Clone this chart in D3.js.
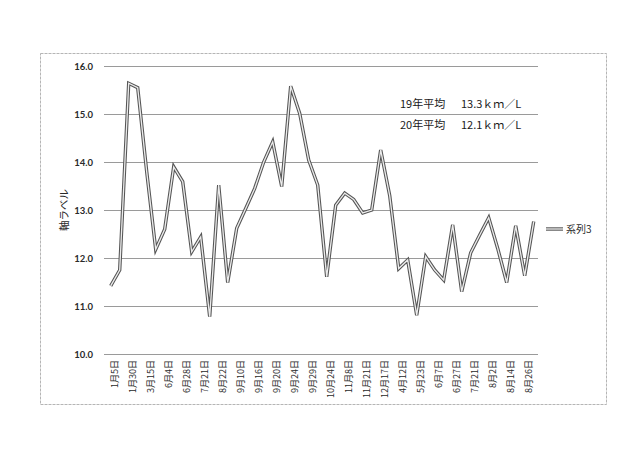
<!DOCTYPE html>
<html>
<head>
<meta charset="utf-8">
<script src="https://cdn.jsdelivr.net/npm/d3@7"></script>
<style>
  html, body { margin: 0; padding: 0; background: #ffffff; }
  svg { display: block; }
</style>
</head>
<body>
<svg id="chart" width="640" height="456"></svg>
<script>
// ---- data ----
const tickLabels = ["1月5日","1月30日","3月15日","6月4日","6月28日","7月21日","8月22日","9月10日",
  "9月16日","9月20日","9月24日","9月29日","10月24日","11月8日","11月21日","12月17日",
  "4月12日","5月23日","6月7日","6月27日","7月21日","8月2日","8月14日","8月26日"];
const series3 = [11.42, 11.75, 15.64, 15.55, 13.8, 12.18, 12.60, 13.90, 13.59, 12.13,
  12.44, 10.78, 13.52, 11.49, 12.62, 13.03, 13.45, 14.0, 14.42, 13.49,
  15.58, 15.01, 14.04, 13.52, 11.61, 13.10, 13.35, 13.22, 12.94, 13.0,
  14.25, 13.3, 11.78, 11.96, 10.81, 12.03, 11.75, 11.54, 12.69, 11.30,
  12.11, 12.48, 12.84, 12.2, 11.49, 12.67, 11.63, 12.76];
const yTicks = [10, 11, 12, 13, 14, 15, 16];
const seriesName = "系列3";
const yAxisTitle = "軸ラベル";
const notes = [["19年平均", "13.3ｋｍ／L"], ["20年平均", "12.1ｋｍ／L"]];

// ---- chart ----
const svg = d3.select("#chart");
const plot = { left: 104, right: 538, top: 66, bottom: 354 };
const idx = series3.map((d, i) => i);

const x = d3.scalePoint().domain(idx).range([110.7, 533.7]);
const y = d3.scaleLinear().domain([10, 16]).range([plot.bottom, plot.top]);

// outer chart border
svg.append("rect")
  .attr("x", 40.5).attr("y", 53.5).attr("width", 566).attr("height", 351)
  .attr("fill", "none").attr("stroke", "#b5b5b5").attr("stroke-width", 1)
  .attr("stroke-dasharray", "3,1");

// y axis with gridlines
const yAxis = d3.axisLeft(y)
  .tickValues(yTicks)
  .tickFormat(d3.format(".1f"))
  .tickSize(-(plot.right - plot.left))
  .tickPadding(11);
const gy = svg.append("g").attr("transform", `translate(${plot.left},0)`).call(yAxis);
gy.select(".domain").remove();
gy.selectAll(".tick line").attr("stroke", "#9a9a9a").attr("stroke-width", 1.1);
gy.selectAll(".tick text")
  .attr("font-family", "Lato, 'Open Sans', sans-serif")
  .attr("font-size", 9.5).attr("font-weight", 700).attr("fill", "#2a2a2a");

// x axis (labels every other category)
const xAxis = d3.axisBottom(x)
  .tickValues(idx.filter(i => i % 2 === 0))
  .tickFormat(i => tickLabels[i / 2])
  .tickSize(0);
const gx = svg.append("g").attr("transform", `translate(0,${plot.bottom})`).call(xAxis);
gx.select(".domain").remove();
gx.selectAll(".tick text")
  .attr("transform", "rotate(-90)")
  .attr("text-anchor", "end")
  .attr("x", -6).attr("y", 4).attr("dy", "0.35em")
  .attr("font-family", "'Noto Sans CJK JP', sans-serif")
  .attr("font-size", 9).attr("fill", "#2a2a2a");

// y axis title
svg.append("text")
  .attr("transform", `translate(64,${(plot.top + plot.bottom) / 2}) rotate(-90)`)
  .attr("text-anchor", "middle").attr("dy", "0.35em")
  .attr("font-family", "'Noto Sans CJK JP', sans-serif")
  .attr("font-size", 10.5).attr("fill", "#2a2a2a")
  .text(yAxisTitle);

// line (double style)
const line = d3.line().x((d, i) => x(i)).y(d => y(d));
svg.append("path").datum(series3).attr("d", line)
  .attr("fill", "none").attr("stroke", "#555").attr("stroke-width", 3.4)
  .attr("stroke-linejoin", "miter");
svg.append("path").datum(series3).attr("d", line)
  .attr("fill", "none").attr("stroke", "#ececec").attr("stroke-width", 1.3)
  .attr("stroke-linejoin", "miter");

// legend
const lg = svg.append("g").attr("transform", "translate(546,229)");
lg.append("line").attr("x1", 0).attr("x2", 17).attr("y1", 0).attr("y2", 0)
  .attr("stroke", "#555").attr("stroke-width", 3.4);
lg.append("line").attr("x1", 0).attr("x2", 17).attr("y1", 0).attr("y2", 0)
  .attr("stroke", "#ececec").attr("stroke-width", 1.3);
lg.append("text").attr("x", 20).attr("dy", "0.35em")
  .attr("font-family", "'Noto Sans CJK JP', sans-serif")
  .attr("font-size", 10).attr("fill", "#2a2a2a")
  .text(seriesName);

// annotations
notes.forEach((n, i) => {
  const ty = 104 + i * 21;
  svg.append("text").attr("x", 400).attr("y", ty).attr("dy", "0.35em")
    .attr("font-family", "'Noto Sans CJK JP', sans-serif")
    .attr("font-size", 11).attr("fill", "#1a1a1a").text(n[0]);
  svg.append("text").attr("x", 461).attr("y", ty).attr("dy", "0.35em")
    .attr("font-family", "'Noto Sans CJK JP', sans-serif")
    .attr("font-size", 11).attr("fill", "#1a1a1a").text(n[1]);
});
</script>
</body>
</html>
